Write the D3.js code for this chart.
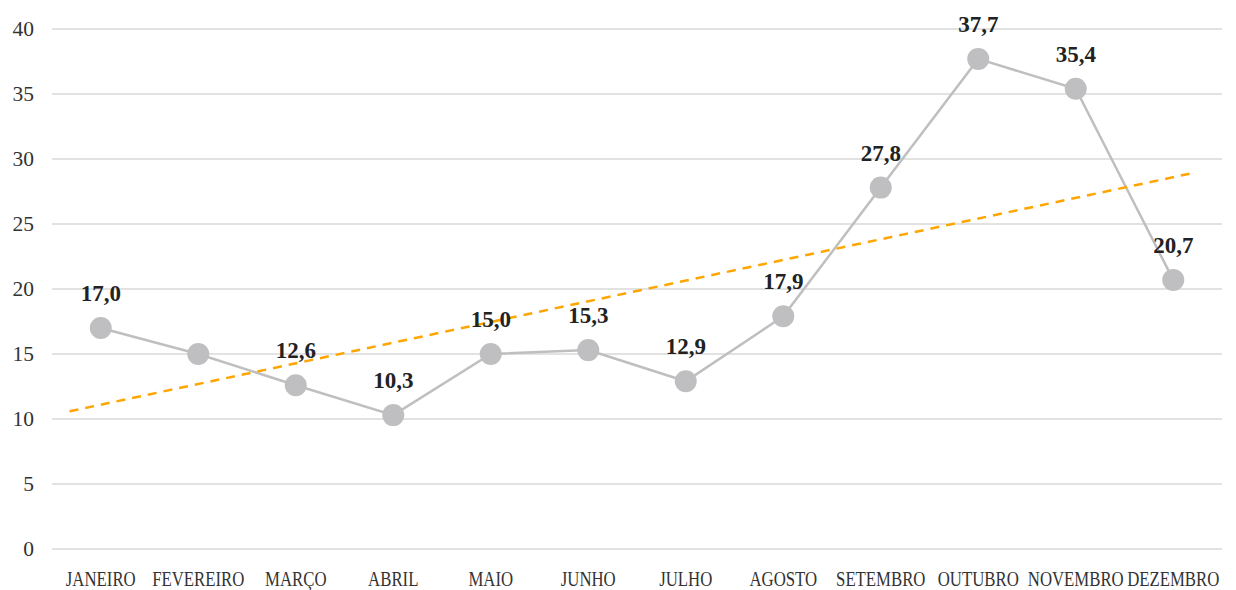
<!DOCTYPE html>
<html>
<head>
<meta charset="utf-8">
<script src="https://cdn.jsdelivr.net/npm/d3@7"></script>
<style>
  body { margin: 0; background: #fff; }
  svg { display: block; font-family: "Liberation Serif", "DejaVu Serif", serif; }
</style>
</head>
<body>
<div id="chart"></div>
<script>
// monthly values
const months = ['JANEIRO', 'FEVEREIRO', 'MARÇO', 'ABRIL', 'MAIO', 'JUNHO', 'JULHO',
  'AGOSTO', 'SETEMBRO', 'OUTUBRO', 'NOVEMBRO', 'DEZEMBRO'];
const values = [17.0, 15.0, 12.6, 10.3, 15.0, 15.3, 12.9, 17.9, 27.8, 37.7, 35.4, 20.7];
const yTicks = [0, 5, 10, 15, 20, 25, 30, 35, 40];
// the source chart shows no data label for this month
const unlabelled = ['FEVEREIRO'];
// trend line as drawn in the source: values at first and last month
const trendValues = [11.1, 28.6];

const width = 1236;
const height = 590;
const margin = { top: 29, right: 14, bottom: 40, left: 52 };

const x = d3.scaleBand().domain(months).range([margin.left, width - margin.right]);
const y = d3.scaleLinear().domain([0, 40]).range([height - margin.bottom - 1, margin.top]);
const cx = (m) => x(m) + x.bandwidth() / 2;

const svg = d3.select('#chart').append('svg').attr('width', width).attr('height', height);

// gridlines
svg.append('g')
  .selectAll('line')
  .data(yTicks)
  .join('line')
  .attr('x1', margin.left)
  .attr('x2', width - margin.right)
  .attr('y1', (d) => y(d))
  .attr('y2', (d) => y(d))
  .attr('stroke', '#d9d9d9')
  .attr('stroke-width', 1.5);

// y axis labels
svg.append('g')
  .attr('transform', `translate(${margin.left - 18},0)`)
  .call(d3.axisLeft(y).tickValues(yTicks).tickSize(0).tickPadding(0))
  .call((g) => g.select('.domain').remove())
  .selectAll('text')
  .attr('font-family', '"Liberation Serif", serif')
  .attr('font-size', 21.5)
  .attr('fill', '#333');

// x axis labels (the source font is a narrow serif, so squeeze it)
svg.append('g')
  .attr('transform', `translate(0,${height - margin.bottom})`)
  .call(d3.axisBottom(x).tickSize(0).tickPadding(21))
  .call((g) => g.select('.domain').remove())
  .selectAll('text')
  .attr('font-family', '"Liberation Serif", serif')
  .attr('font-size', 21.5)
  .attr('transform', 'scale(0.78,1)')
  .attr('fill', '#333');

// series line
svg.append('path')
  .datum(values)
  .attr('fill', 'none')
  .attr('stroke', '#bfbfbf')
  .attr('stroke-width', 2.5)
  .attr('d', d3.line().x((d, i) => cx(months[i])).y((d) => y(d)));

// trend line, extended a little past the first and last month
const step = x.step();
const slope = (trendValues[1] - trendValues[0]) / (cx(months[11]) - cx(months[0]));
const tx0 = cx(months[0]) - step * 0.32;
const tx1 = cx(months[11]) + step * 0.2;
svg.append('line')
  .attr('x1', tx0)
  .attr('y1', y(trendValues[0] + slope * (tx0 - cx(months[0]))))
  .attr('x2', tx1)
  .attr('y2', y(trendValues[1] + slope * (tx1 - cx(months[11]))))
  .attr('stroke', '#ffa500')
  .attr('stroke-width', 2.5)
  .attr('stroke-dasharray', '9,7');

// markers
svg.append('g')
  .selectAll('circle')
  .data(values)
  .join('circle')
  .attr('cx', (d, i) => cx(months[i]))
  .attr('cy', (d) => y(d))
  .attr('r', 11)
  .attr('fill', '#bfbfc1');

// data labels
const labelled = values
  .map((v, i) => ({ month: months[i], value: v }))
  .filter((d) => !unlabelled.includes(d.month));

svg.append('g')
  .selectAll('text')
  .data(labelled)
  .join('text')
  .attr('x', (d) => cx(d.month))
  .attr('y', (d) => y(d.value) - 27)
  .attr('text-anchor', 'middle')
  .attr('font-size', 23)
  .attr('font-weight', 'bold')
  .attr('fill', '#222')
  .text((d) => d.value.toFixed(1).replace('.', ','));
</script>
</body>
</html>
